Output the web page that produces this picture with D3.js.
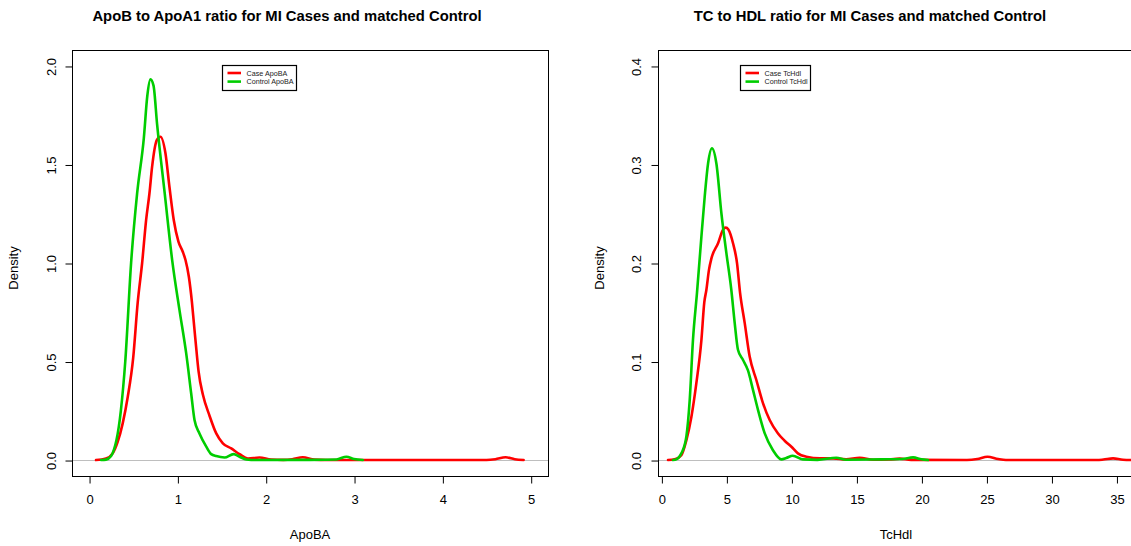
<!DOCTYPE html>
<html>
<head>
<meta charset="utf-8">
<script src="https://cdn.jsdelivr.net/npm/d3@7/dist/d3.min.js"></script>
<style>
  html, body { margin: 0; padding: 0; background: #fff; }
  svg { display: block; font-family: "Liberation Sans", Arial, Helvetica, sans-serif; }
</style>
</head>
<body>
<svg id="chart" width="1131" height="546"></svg>
<script>
// ---- ApoB / ApoA1 ratio: kernel density estimates ----
const apobaCaseX = [0.079, 0.192, 0.268, 0.325, 0.381, 0.438, 0.50, 0.551, 0.601, 0.646, 0.684, 0.714, 0.767, 0.808,
  0.865, 0.910, 0.959, 1.012, 1.061, 1.092, 1.13, 1.165, 1.19, 1.215, 1.24, 1.29, 1.364, 1.44, 1.515, 1.61, 1.704,
  1.799, 1.93, 2.06, 2.2, 2.3, 2.42, 2.55, 2.7, 3.0, 3.5, 4.0, 4.5, 4.6, 4.716, 4.82, 4.92];
const apobaCaseY = [0, 0.008, 0.034, 0.093, 0.186, 0.32, 0.52, 0.80, 1.0, 1.218, 1.354, 1.489, 1.624, 1.641,
  1.557, 1.387, 1.218, 1.108, 1.057, 1.015, 0.93, 0.80, 0.68, 0.56, 0.45, 0.33, 0.225, 0.135, 0.085, 0.059, 0.030,
  0.008, 0.013, 0.003, 0.001, 0.004, 0.014, 0.002, 0, 0, 0, 0, 0, 0.004, 0.014, 0.004, 0];

const apobaCtrlX = [0.136, 0.192, 0.25, 0.28, 0.31, 0.36, 0.41, 0.476, 0.544, 0.62, 0.66, 0.695, 0.73,
  0.77, 0.857, 0.941, 1.024, 1.100, 1.156, 1.194, 1.25, 1.327, 1.383, 1.44, 1.534, 1.636, 1.704, 1.78, 1.9, 2.5,
  2.8, 2.914, 3.0, 3.10];
const apobaCtrlY = [0, 0.002, 0.02, 0.05, 0.10, 0.25, 0.50, 1.0, 1.352, 1.633, 1.85, 1.932, 1.90,
  1.706, 1.352, 1.015, 0.761, 0.541, 0.339, 0.203, 0.135, 0.068, 0.030, 0.020, 0.013, 0.030, 0.017, 0.003, 0, 0.001,
  0.003, 0.017, 0.005, 0];

// ---- Total cholesterol / HDL ratio: kernel density estimates ----
const tchdlCaseX = [0.51, 1.02, 1.54, 1.92, 2.31, 2.69, 3.08, 3.30, 3.46, 3.66, 3.85, 4.36, 4.75, 4.95, 5.15, 5.51,
  5.82, 6.05, 6.41, 6.79, 7.31, 7.82, 8.33, 8.97, 9.48, 10.0, 10.5, 11.15, 12.2, 13.2, 14.2, 15.25, 16.3, 17.5,
  18.33, 19.2, 23.5, 24.3, 25.08, 25.9, 26.5, 33.5, 34.0, 34.74, 35.5, 36.4];
const tchdlCaseY = [0, 0.0007, 0.005, 0.020, 0.044, 0.078, 0.122, 0.160, 0.1726, 0.193, 0.2047, 0.22, 0.234, 0.2359,
  0.234, 0.22, 0.1997, 0.17, 0.139, 0.105, 0.081, 0.0575, 0.0406, 0.027, 0.0196, 0.0135, 0.0068, 0.0034, 0.0017,
  0.0017, 0.0007, 0.0024, 0.0003, 0.0005, 0.0014, 0.0002, 0, 0.001, 0.0034, 0.001, 0, 0, 0.0005, 0.0017, 0.0003, 0];

const tchdlCtrlX = [0.9, 1.15, 1.54, 1.92, 2.18, 2.43, 2.74, 3.08, 3.33, 3.59, 3.89, 4.23, 4.62, 5.0, 5.38, 5.64,
  5.89, 6.28, 6.66, 7.05, 7.43, 7.95, 8.58, 9.23, 9.6, 10.1, 10.9, 12.0, 13.46, 14.2, 16.0, 17.5, 18.5, 19.36,
  20.0, 20.5];
const tchdlCtrlY = [0, 0.0007, 0.0068, 0.0237, 0.061, 0.122, 0.17, 0.227, 0.267, 0.301, 0.3164, 0.301, 0.25, 0.21,
  0.1726, 0.139, 0.112, 0.1015, 0.091, 0.071, 0.051, 0.027, 0.010, 0.0007, 0.002, 0.0044, 0.0007, 0.0002, 0.0024,
  0.0003, 0.0005, 0.0008, 0.001, 0.0027, 0.0008, 0];

// ---- ticks and text ----
const apobaXTicks = [0, 1, 2, 3, 4, 5];
const apobaYTicks = [0, 0.5, 1.0, 1.5, 2.0];
const tchdlXTicks = [0, 5, 10, 15, 20, 25, 30, 35];
const tchdlYTicks = [0, 0.1, 0.2, 0.3, 0.4];
const panelTitles = ["ApoB to ApoA1 ratio for MI Cases and matched Control",
                     "TC to HDL ratio for MI Cases and matched Control"];
const xLabels = ["ApoBA", "TcHdl"];
const apobaLegend = ["Case ApoBA", "Control ApoBA"];
const tchdlLegend = ["Case TcHdl", "Control TcHdl"];

const CASE_COLOR = "#FF0000";
const CTRL_COLOR = "#00CD00";

const svg = d3.select("#chart");
svg.append("rect").attr("width", 1131).attr("height", 546).attr("fill", "#fff");

function drawPanel(opt) {
  const g = svg.append("g");
  const { left, right, top, bottom } = opt.box;

  const x = d3.scaleLinear().domain(opt.xDomain).range([left, right]);
  const y = d3.scaleLinear().domain(opt.yDomain).range([bottom, top]);

  // clip the curves to the plotting region
  const clipId = "clip-" + opt.id;
  svg.append("clipPath").attr("id", clipId)
    .append("rect").attr("x", left).attr("y", top)
    .attr("width", right - left).attr("height", bottom - top);

  // zero reference line
  g.append("line")
    .attr("x1", left).attr("x2", right)
    .attr("y1", Math.round(y(0)) + 0.5).attr("y2", Math.round(y(0)) + 0.5)
    .attr("stroke", "#BEBEBE").attr("stroke-width", 1);

  const line = d3.line()
    .x(d => x(d[0])).y(d => y(d[1]))
    .curve(d3.curveMonotoneX);

  opt.series.forEach(s => {
    const pts = s.xs.map((v, i) => [v, s.ys[i]]);
    g.append("path")
      .attr("clip-path", `url(#${clipId})`)
      .attr("d", line(pts))
      .attr("fill", "none")
      .attr("stroke", s.color)
      .attr("stroke-width", 2.6)
      .attr("stroke-linejoin", "round")
      .attr("stroke-linecap", "round");
  });

  // frame
  g.append("rect")
    .attr("x", left + 0.5).attr("y", top + 0.5)
    .attr("width", right - left).attr("height", bottom - top)
    .attr("fill", "none").attr("stroke", "#000").attr("stroke-width", 1);

  // x axis
  const xAxis = d3.axisBottom(x).tickValues(opt.xTicks).tickSize(7).tickPadding(11)
    .tickFormat(d3.format("d"));
  const ax = g.append("g").attr("transform", `translate(0.5,${bottom + 0.5})`).call(xAxis);
  ax.select(".domain")
    .attr("d", `M${x(opt.xTicks[0])},0H${x(opt.xTicks[opt.xTicks.length - 1])}`);
  ax.selectAll("text").attr("font-size", 13).attr("fill", "#000")
    .attr("font-family", "Liberation Sans, Arial, sans-serif");
  ax.selectAll("line, path").attr("stroke", "#000");

  // y axis (labels rotated, as in base graphics)
  const yAxis = d3.axisLeft(y).tickValues(opt.yTicks).tickSize(7).tickFormat(d3.format(".1f"));
  const ay = g.append("g").attr("transform", `translate(${left + 0.5},0.5)`).call(yAxis);
  ay.select(".domain")
    .attr("d", `M0,${y(opt.yTicks[0])}V${y(opt.yTicks[opt.yTicks.length - 1])}`);
  ay.selectAll("line, path").attr("stroke", "#000");
  ay.selectAll("text")
    .attr("x", null).attr("dy", null)
    .attr("text-anchor", "middle")
    .attr("transform", d => `translate(${-(left - opt.yLabelBase)},0) rotate(-90)`)
    .attr("font-size", 13).attr("fill", "#000")
    .attr("font-family", "Liberation Sans, Arial, sans-serif");

  // title
  g.append("text")
    .attr("x", opt.titleX).attr("y", 21)
    .attr("text-anchor", "middle")
    .attr("font-size", 14.8).attr("font-weight", "bold")
    .text(opt.title);

  // axis titles
  g.append("text")
    .attr("x", (left + right) / 2).attr("y", 539)
    .attr("text-anchor", "middle").attr("font-size", 13)
    .text(opt.xLabel);
  g.append("text")
    .attr("transform", `translate(${opt.yTitleBase},${opt.yTitleY}) rotate(-90)`)
    .attr("text-anchor", "middle").attr("font-size", 13)
    .text("Density");

  // legend
  const lg = g.append("g");
  const L = opt.legend;
  lg.append("rect")
    .attr("x", L.x + 0.5).attr("y", L.y + 0.5)
    .attr("width", L.w).attr("height", L.h)
    .attr("fill", "#fff").attr("stroke", "#000").attr("stroke-width", 1.2);
  opt.series.forEach((s, i) => {
    const cy = L.y + 8 + i * 8.6;
    lg.append("line")
      .attr("x1", L.x + 5.5).attr("x2", L.x + 19)
      .attr("y1", cy).attr("y2", cy)
      .attr("stroke", s.color).attr("stroke-width", 2.6);
    lg.append("text")
      .attr("x", L.x + 24.5).attr("y", cy + 2.5)
      .attr("font-size", 7.2).attr("fill", "#222")
      .text(s.name);
  });
}

drawPanel({
  id: "apoba",
  box: { left: 72, right: 548, top: 50, bottom: 476 },
  xDomain: [-0.193, 5.196],
  yDomain: [-0.081, 2.081],
  xTicks: apobaXTicks, yTicks: apobaYTicks,
  yLabelBase: 55, yTitleBase: 18, yTitleY: 268,
  title: panelTitles[0], titleX: 287,
  xLabel: xLabels[0],
  legend: { x: 222, y: 65, w: 74, h: 25 },
  series: [
    { name: apobaLegend[0], xs: apobaCaseX, ys: apobaCaseY, color: CASE_COLOR },
    { name: apobaLegend[1], xs: apobaCtrlX, ys: apobaCtrlY, color: CTRL_COLOR }
  ]
});

drawPanel({
  id: "tchdl",
  box: { left: 658, right: 1134, top: 50, bottom: 476 },
  xDomain: [-0.26, 36.35],
  yDomain: [-0.0162, 0.4162],
  xTicks: tchdlXTicks, yTicks: tchdlYTicks,
  yLabelBase: 640, yTitleBase: 604, yTitleY: 268,
  title: panelTitles[1], titleX: 870,
  xLabel: xLabels[1],
  legend: { x: 740, y: 65, w: 70, h: 25 },
  series: [
    { name: tchdlLegend[0], xs: tchdlCaseX, ys: tchdlCaseY, color: CASE_COLOR },
    { name: tchdlLegend[1], xs: tchdlCtrlX, ys: tchdlCtrlY, color: CTRL_COLOR }
  ]
});
</script>
</body>
</html>
